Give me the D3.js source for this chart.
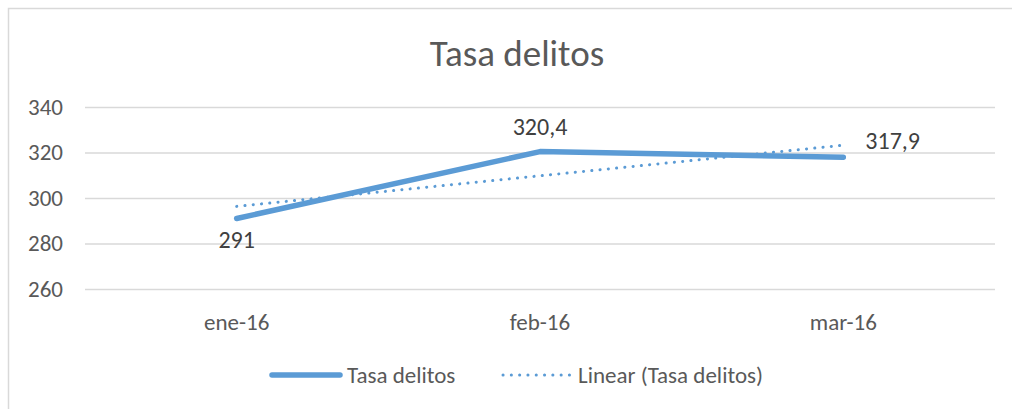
<!DOCTYPE html>
<html>
<head>
<meta charset="utf-8">
<script src="https://cdn.jsdelivr.net/npm/d3@7"></script>
<style>
  body { margin: 0; background: #fff; }
  svg text { font-family: Carlito, Calibri, Lato, "Open Sans", sans-serif; }
</style>
</head>
<body>
<svg id="chart" width="1012" height="409"></svg>
<script>
// chart data
const categories = ["ene-16", "feb-16", "mar-16"];
const values = [291, 320.4, 317.9];
const valueLabels = ["291", "320,4", "317,9"];
const yTicks = [260, 280, 300, 320, 340];

const width = 1012;
const height = 409;
const margin = { top: 107, right: 17, bottom: 120, left: 85 };
const blue = "#5b9bd5";

const svg = d3.select("#chart");

// outer chart border
svg.append("rect")
  .attr("x", 8.5).attr("y", 8.5)
  .attr("width", 1100).attr("height", 500)
  .attr("fill", "#fff")
  .attr("stroke", "#d9d9d9")
  .attr("stroke-width", 1.5);

// title
svg.append("text")
  .attr("x", 517).attr("y", 66)
  .attr("text-anchor", "middle")
  .attr("font-size", 37)
  .attr("fill", "#595959")
  .text("Tasa delitos");

// scales
const x = d3.scaleBand()
  .domain(categories)
  .range([margin.left, width - margin.right]);

const y = d3.scaleLinear()
  .domain([260, 340])
  .range([height - margin.bottom, margin.top]);

const cx = d => x(d) + x.bandwidth() / 2;

// gridlines + y labels via axis
const yAxis = svg.append("g")
  .attr("transform", `translate(${margin.left},0)`)
  .call(d3.axisLeft(y).tickValues(yTicks).tickSize(-(width - margin.left - margin.right)).tickPadding(22));
yAxis.select(".domain").remove();
yAxis.selectAll(".tick line").attr("stroke", "#d9d9d9").attr("stroke-width", 1.5);
yAxis.selectAll(".tick text")
  .attr("font-size", 23)
  .attr("fill", "#595959")
  .attr("font-family", "Carlito, Calibri, Lato, sans-serif");

// x labels
const xAxis = svg.append("g")
  .attr("transform", `translate(0,${y(260)})`)
  .call(d3.axisBottom(x).tickSize(0).tickPadding(25));
xAxis.select(".domain").remove();
xAxis.selectAll(".tick text")
  .attr("font-size", 23)
  .attr("fill", "#595959")
  .attr("font-family", "Carlito, Calibri, Lato, sans-serif");

// linear trendline (least squares on the series)
const idx = values.map((v, i) => i + 1);
const mx = d3.mean(idx), my = d3.mean(values);
const slope = d3.sum(idx, (t, i) => (t - mx) * (values[i] - my)) / d3.sum(idx, t => (t - mx) * (t - mx));
const trend = idx.map(t => my + slope * (t - mx));

const line = d3.line()
  .x((d, i) => cx(categories[i]))
  .y(d => y(d));

svg.append("path")
  .datum(trend)
  .attr("d", line)
  .attr("fill", "none")
  .attr("stroke", blue)
  .attr("stroke-width", 3)
  .attr("stroke-linecap", "round")
  .attr("stroke-dasharray", "0.1 8.2");

// main series
svg.append("path")
  .datum(values)
  .attr("d", line)
  .attr("fill", "none")
  .attr("stroke", blue)
  .attr("stroke-width", 5.5)
  .attr("stroke-linecap", "round")
  .attr("stroke-linejoin", "round");

// data labels
const labelPos = [
  { dx: 0, dy: 30, anchor: "middle" },
  { dx: 0, dy: -17, anchor: "middle" },
  { dx: 22, dy: -8, anchor: "start" }
];
svg.selectAll(".dlabel")
  .data(values)
  .enter().append("text")
  .attr("class", "dlabel")
  .attr("x", (d, i) => cx(categories[i]) + labelPos[i].dx)
  .attr("y", (d, i) => y(d) + labelPos[i].dy)
  .attr("text-anchor", (d, i) => labelPos[i].anchor)
  .attr("font-size", 24)
  .attr("fill", "#404040")
  .text((d, i) => valueLabels[i]);

// legend
const legend = svg.append("g");
legend.append("line")
  .attr("x1", 272).attr("x2", 340).attr("y1", 375).attr("y2", 375)
  .attr("stroke", blue).attr("stroke-width", 5.5).attr("stroke-linecap", "round");
legend.append("text")
  .attr("x", 347).attr("y", 383)
  .attr("font-size", 23).attr("fill", "#595959")
  .text("Tasa delitos");
legend.append("line")
  .attr("x1", 503).attr("x2", 571).attr("y1", 375).attr("y2", 375)
  .attr("stroke", blue).attr("stroke-width", 3).attr("stroke-linecap", "round")
  .attr("stroke-dasharray", "0.1 8.2");
legend.append("text")
  .attr("x", 578).attr("y", 383)
  .attr("font-size", 23).attr("fill", "#595959")
  .text("Linear (Tasa delitos)");
</script>
</body>
</html>
